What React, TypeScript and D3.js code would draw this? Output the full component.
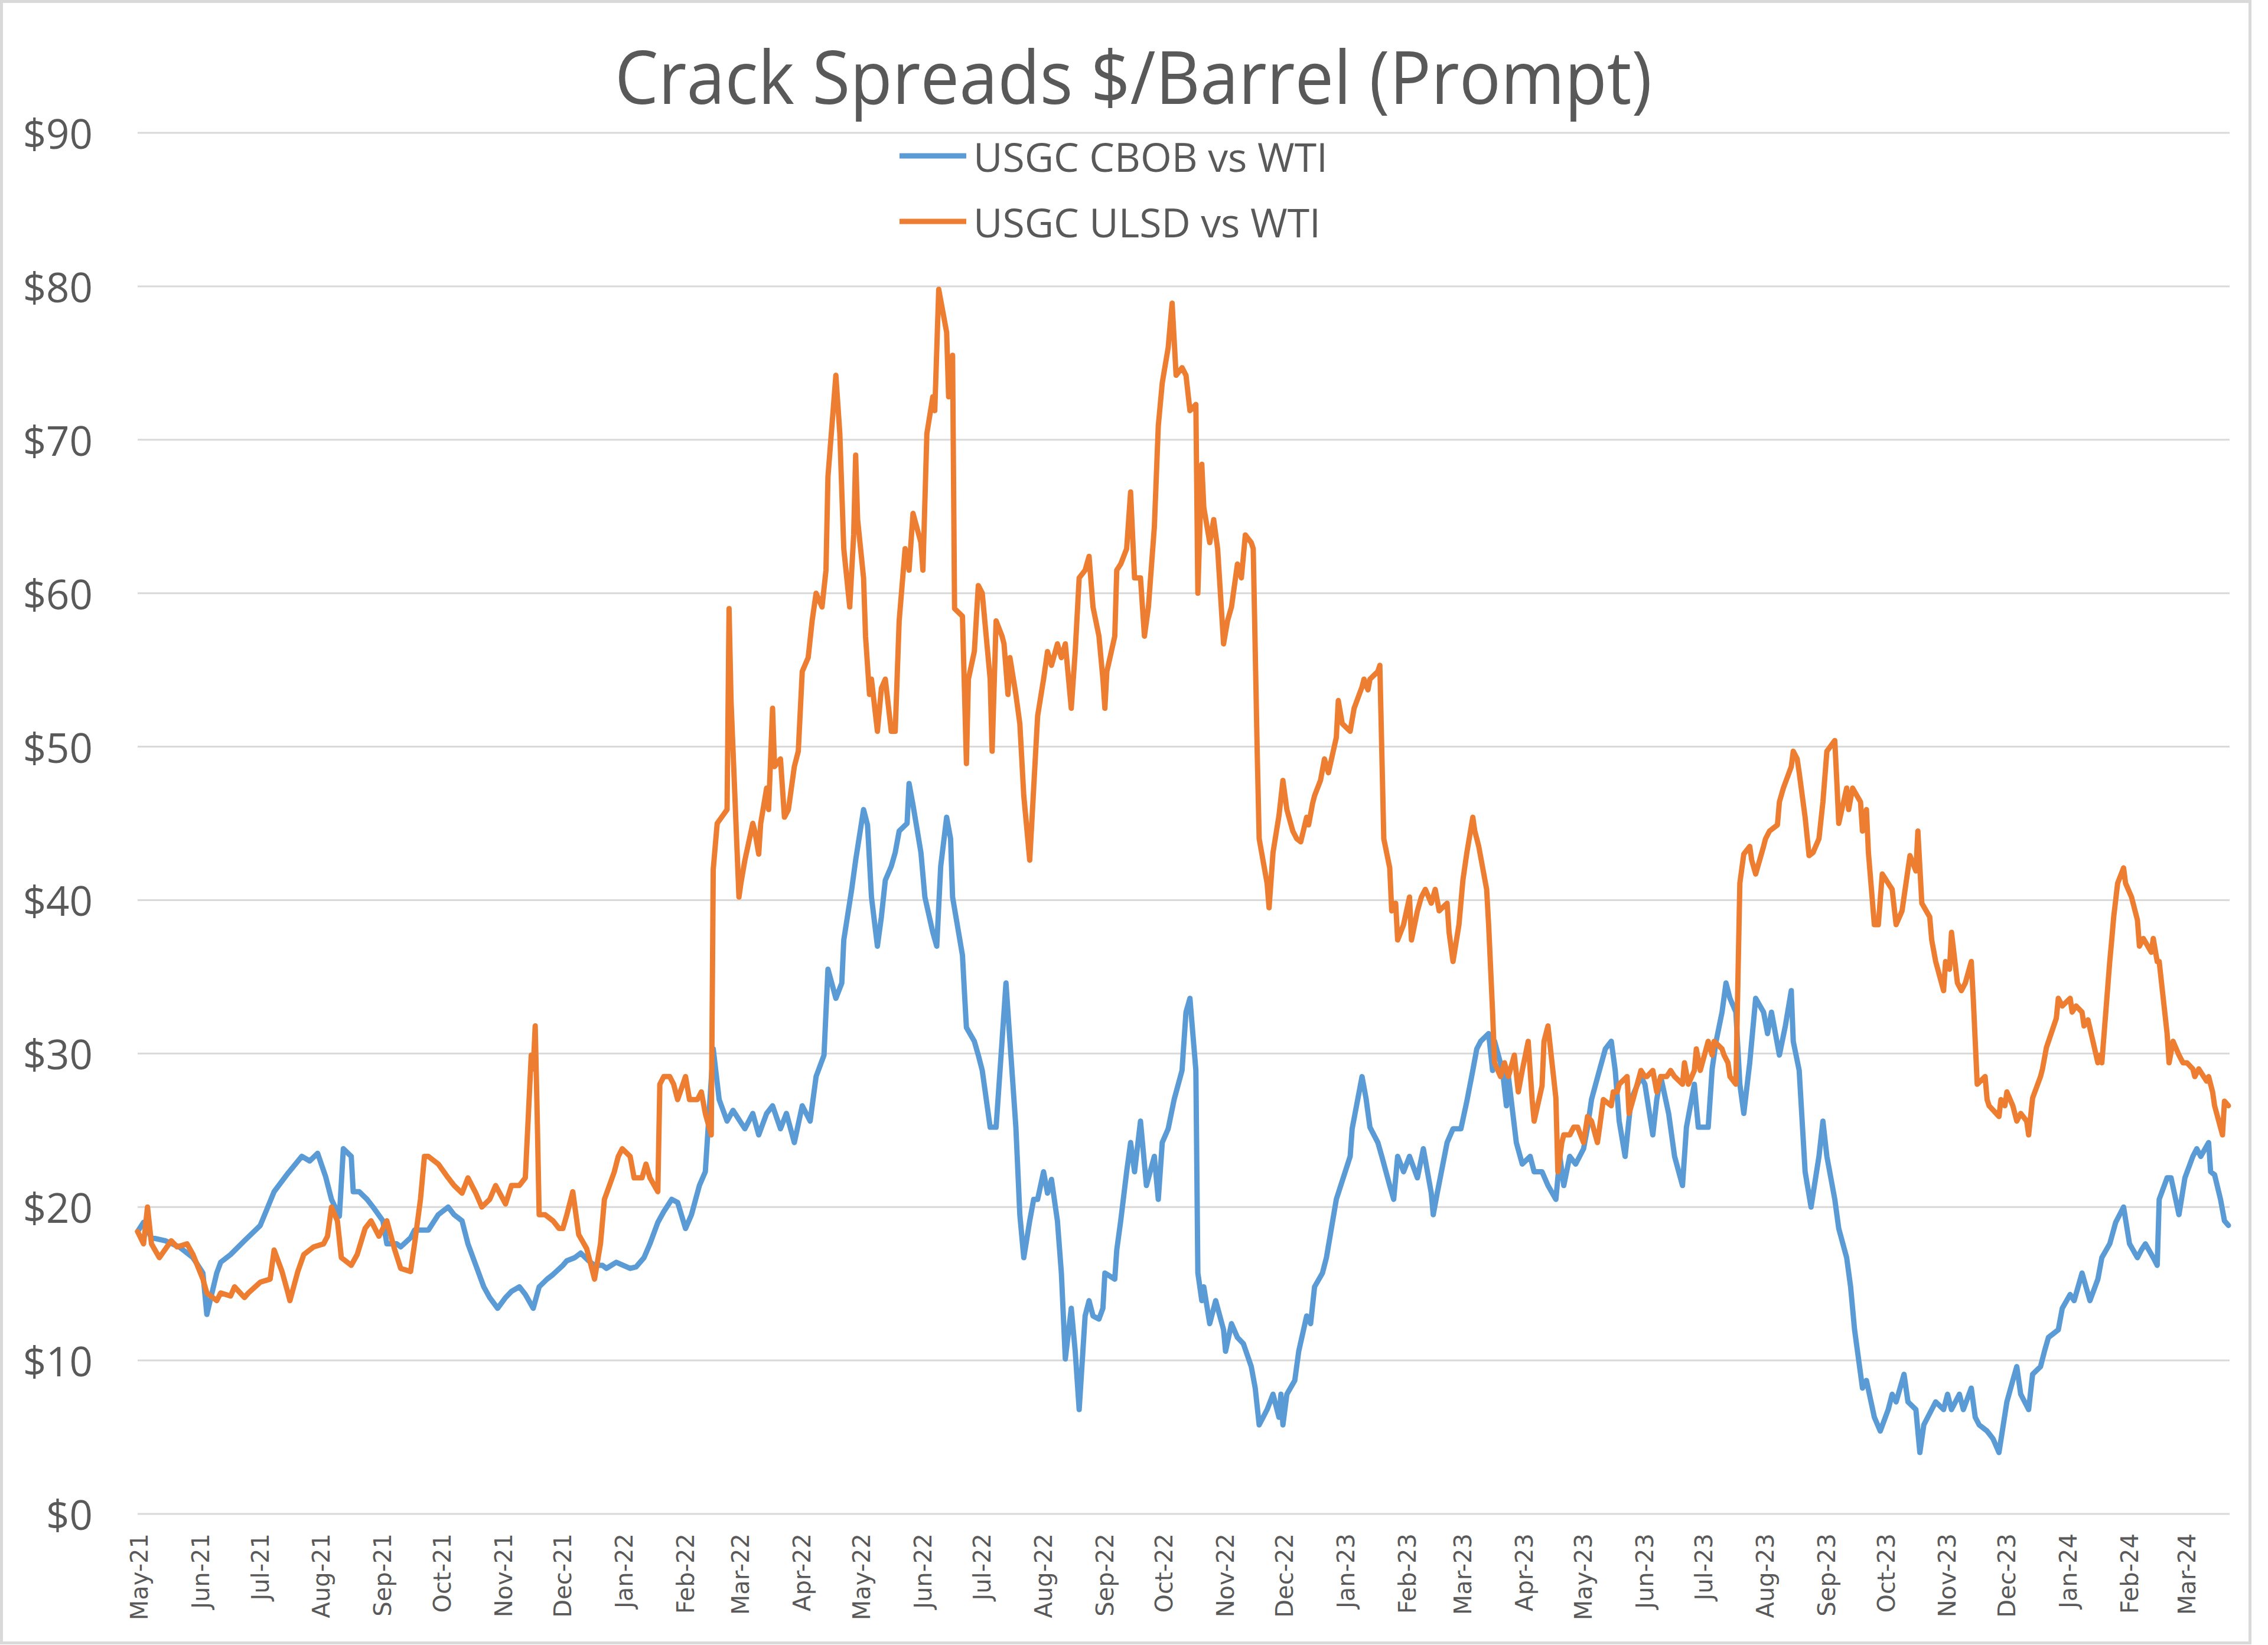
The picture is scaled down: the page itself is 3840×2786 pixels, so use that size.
import React from "react";
import * as d3 from "d3";

const W = 3840;
const H = 2786;

const chartTitle = "Crack Spreads $/Barrel (Prompt)";
const seriesNames = ["USGC CBOB vs WTI", "USGC ULSD vs WTI"];
const seriesColors = ["#5B9BD5", "#ED7D31"];
const yTicks = [0, 10, 20, 30, 40, 50, 60, 70, 80, 90];
const monthLabels = [
  "May-21", "Jun-21", "Jul-21", "Aug-21", "Sep-21", "Oct-21", "Nov-21", "Dec-21",
  "Jan-22", "Feb-22", "Mar-22", "Apr-22", "May-22", "Jun-22", "Jul-22", "Aug-22",
  "Sep-22", "Oct-22", "Nov-22", "Dec-22", "Jan-23", "Feb-23", "Mar-23", "Apr-23",
  "May-23", "Jun-23", "Jul-23", "Aug-23", "Sep-23", "Oct-23", "Nov-23", "Dec-23",
  "Jan-24", "Feb-24", "Mar-24",
];

const cbob: [string, number][] = [
  ["2021-04-30",18.4],["2021-05-03",19.0],["2021-05-07",18.0],["2021-05-14",17.8],["2021-05-21",17.4],["2021-05-28",16.7],["2021-06-02",15.7],["2021-06-04",13.0],["2021-06-09",15.7],["2021-06-11",16.4],["2021-06-16",16.9],["2021-06-23",17.8],["2021-07-01",18.8],["2021-07-08",21.0],["2021-07-15",22.2],["2021-07-22",23.3],["2021-07-26",23.0],["2021-07-30",23.5],["2021-08-03",22.0],["2021-08-06",20.5],["2021-08-10",19.4],["2021-08-12",23.8],["2021-08-16",23.3],["2021-08-17",21.0],["2021-08-20",21.0],["2021-08-24",20.5],["2021-08-27",20.0],["2021-09-01",19.1],["2021-09-03",17.6],["2021-09-08",17.6],["2021-09-10",17.4],["2021-09-15",18.0],["2021-09-17",18.5],["2021-09-24",18.5],["2021-09-29",19.5],["2021-10-04",20.0],["2021-10-07",19.5],["2021-10-11",19.1],["2021-10-14",17.6],["2021-10-18",16.2],["2021-10-22",14.8],["2021-10-25",14.1],["2021-10-29",13.4],["2021-11-02",14.1],["2021-11-05",14.5],["2021-11-09",14.8],["2021-11-12",14.3],["2021-11-16",13.4],["2021-11-19",14.8],["2021-11-23",15.3],["2021-11-26",15.6],["2021-12-01",16.2],["2021-12-03",16.5],["2021-12-07",16.7],["2021-12-10",17.0],["2021-12-14",16.5],["2021-12-17",16.2],["2021-12-21",16.2],["2021-12-23",16.0],["2021-12-28",16.4],["2022-01-04",16.0],["2022-01-07",16.1],["2022-01-11",16.7],["2022-01-14",17.6],["2022-01-18",19.0],["2022-01-21",19.7],["2022-01-25",20.5],["2022-01-28",20.3],["2022-02-01",18.6],["2022-02-04",19.5],["2022-02-08",21.4],["2022-02-11",22.3],["2022-02-15",30.3],["2022-02-18",27.0],["2022-02-22",25.6],["2022-02-25",26.3],["2022-03-03",25.1],["2022-03-07",26.1],["2022-03-10",24.7],["2022-03-14",26.1],["2022-03-17",26.6],["2022-03-21",25.1],["2022-03-24",26.1],["2022-03-28",24.2],["2022-04-01",26.6],["2022-04-05",25.6],["2022-04-08",28.5],["2022-04-12",29.9],["2022-04-14",35.5],["2022-04-18",33.6],["2022-04-21",34.6],["2022-04-22",37.4],["2022-04-26",40.7],["2022-04-28",42.6],["2022-05-02",45.9],["2022-05-04",44.9],["2022-05-06",40.2],["2022-05-09",37.0],["2022-05-11",38.9],["2022-05-13",41.3],["2022-05-16",42.2],["2022-05-18",43.1],["2022-05-20",44.5],["2022-05-24",45.0],["2022-05-25",47.6],["2022-05-27",46.2],["2022-05-31",43.1],["2022-06-02",40.2],["2022-06-06",37.9],["2022-06-08",37.0],["2022-06-10",42.2],["2022-06-13",45.4],["2022-06-15",44.0],["2022-06-16",40.2],["2022-06-21",36.4],["2022-06-22",34.0],["2022-06-23",31.7],["2022-06-27",30.8],["2022-06-29",29.9],["2022-07-01",28.9],["2022-07-05",25.2],["2022-07-08",25.2],["2022-07-11",30.8],["2022-07-13",34.6],["2022-07-15",30.8],["2022-07-18",25.2],["2022-07-20",19.5],["2022-07-22",16.7],["2022-07-25",19.1],["2022-07-27",20.5],["2022-07-29",20.5],["2022-08-01",22.3],["2022-08-03",20.9],["2022-08-05",21.8],["2022-08-08",19.1],["2022-08-10",15.7],["2022-08-12",10.1],["2022-08-15",13.4],["2022-08-17",10.6],["2022-08-19",6.8],["2022-08-22",12.9],["2022-08-24",13.9],["2022-08-26",12.9],["2022-08-29",12.7],["2022-08-31",13.4],["2022-09-01",15.7],["2022-09-06",15.3],["2022-09-07",17.2],["2022-09-09",19.1],["2022-09-12",22.3],["2022-09-14",24.2],["2022-09-16",22.3],["2022-09-19",25.6],["2022-09-22",21.4],["2022-09-26",23.3],["2022-09-28",20.5],["2022-09-30",24.2],["2022-10-03",25.1],["2022-10-06",27.0],["2022-10-10",28.9],["2022-10-12",32.7],["2022-10-14",33.6],["2022-10-17",28.9],["2022-10-18",15.7],["2022-10-20",13.9],["2022-10-21",14.8],["2022-10-24",12.4],["2022-10-27",13.9],["2022-10-31",12.0],["2022-11-01",10.6],["2022-11-04",12.4],["2022-11-07",11.5],["2022-11-10",11.1],["2022-11-14",9.6],["2022-11-16",8.2],["2022-11-18",5.8],["2022-11-22",6.8],["2022-11-25",7.8],["2022-11-28",6.3],["2022-11-29",7.8],["2022-11-30",5.8],["2022-12-02",7.8],["2022-12-06",8.7],["2022-12-08",10.6],["2022-12-12",12.9],["2022-12-14",12.4],["2022-12-16",14.8],["2022-12-20",15.7],["2022-12-22",16.7],["2022-12-27",20.5],["2023-01-03",23.3],["2023-01-04",25.1],["2023-01-09",28.5],["2023-01-11",27.1],["2023-01-13",25.2],["2023-01-17",24.2],["2023-01-19",23.3],["2023-01-23",21.4],["2023-01-25",20.5],["2023-01-27",23.3],["2023-01-30",22.3],["2023-02-02",23.3],["2023-02-06",21.9],["2023-02-09",23.8],["2023-02-13",20.9],["2023-02-14",19.5],["2023-02-16",20.9],["2023-02-21",24.2],["2023-02-24",25.1],["2023-02-28",25.1],["2023-03-03",26.9],["2023-03-06",28.9],["2023-03-08",30.3],["2023-03-10",30.8],["2023-03-14",31.3],["2023-03-16",28.9],["2023-03-17",30.8],["2023-03-21",28.9],["2023-03-23",26.6],["2023-03-24",28.5],["2023-03-28",24.2],["2023-03-31",22.8],["2023-04-04",23.3],["2023-04-06",22.3],["2023-04-10",22.3],["2023-04-13",21.4],["2023-04-17",20.5],["2023-04-19",23.3],["2023-04-21",21.4],["2023-04-24",23.3],["2023-04-27",22.8],["2023-05-01",23.8],["2023-05-03",25.2],["2023-05-05",27.0],["2023-05-09",28.9],["2023-05-12",30.3],["2023-05-15",30.8],["2023-05-17",28.9],["2023-05-19",25.6],["2023-05-22",23.3],["2023-05-25",27.0],["2023-05-30",28.5],["2023-06-01",28.0],["2023-06-05",24.7],["2023-06-07",27.0],["2023-06-09",28.5],["2023-06-13",26.1],["2023-06-16",23.3],["2023-06-20",21.4],["2023-06-22",25.2],["2023-06-26",28.0],["2023-06-28",25.2],["2023-07-03",25.2],["2023-07-05",29.0],["2023-07-07",30.8],["2023-07-10",32.7],["2023-07-12",34.6],["2023-07-14",33.6],["2023-07-17",32.7],["2023-07-19",28.0],["2023-07-21",26.1],["2023-07-24",29.4],["2023-07-27",33.6],["2023-07-31",32.7],["2023-08-02",31.3],["2023-08-04",32.7],["2023-08-08",29.9],["2023-08-11",31.8],["2023-08-14",34.1],["2023-08-15",30.8],["2023-08-18",28.9],["2023-08-21",22.3],["2023-08-24",20.0],["2023-08-28",23.3],["2023-08-30",25.6],["2023-09-01",23.3],["2023-09-05",20.5],["2023-09-07",18.6],["2023-09-11",16.7],["2023-09-13",14.8],["2023-09-15",12.0],["2023-09-19",8.2],["2023-09-21",8.7],["2023-09-25",6.3],["2023-09-28",5.4],["2023-10-02",6.8],["2023-10-04",7.8],["2023-10-06",7.3],["2023-10-10",9.1],["2023-10-12",7.3],["2023-10-16",6.8],["2023-10-18",4.0],["2023-10-20",5.8],["2023-10-24",6.8],["2023-10-26",7.3],["2023-10-30",6.8],["2023-11-01",7.8],["2023-11-03",6.8],["2023-11-07",7.8],["2023-11-09",6.8],["2023-11-13",8.2],["2023-11-15",6.3],["2023-11-17",5.8],["2023-11-21",5.4],["2023-11-24",4.9],["2023-11-27",4.0],["2023-12-01",7.3],["2023-12-04",8.7],["2023-12-06",9.6],["2023-12-08",7.8],["2023-12-12",6.8],["2023-12-14",9.1],["2023-12-18",9.6],["2023-12-20",10.6],["2023-12-22",11.5],["2023-12-27",12.0],["2023-12-29",13.4],["2024-01-02",14.3],["2024-01-04",13.9],["2024-01-08",15.7],["2024-01-10",14.8],["2024-01-12",13.9],["2024-01-16",15.3],["2024-01-18",16.7],["2024-01-22",17.6],["2024-01-25",19.0],["2024-01-29",20.0],["2024-02-01",17.6],["2024-02-05",16.7],["2024-02-07",17.2],["2024-02-09",17.6],["2024-02-13",16.7],["2024-02-15",16.2],["2024-02-16",20.5],["2024-02-20",21.9],["2024-02-22",21.9],["2024-02-26",19.5],["2024-02-29",21.9],["2024-03-04",23.3],["2024-03-06",23.8],["2024-03-08",23.3],["2024-03-12",24.2],["2024-03-13",22.3],["2024-03-15",22.1],["2024-03-18",20.5],["2024-03-20",19.1],["2024-03-22",18.8],
];

const ulsd: [string, number][] = [
  ["2021-04-30",18.4],["2021-05-03",17.6],["2021-05-05",20.0],["2021-05-07",17.6],["2021-05-11",16.7],["2021-05-17",17.8],["2021-05-20",17.4],["2021-05-25",17.6],["2021-05-28",16.9],["2021-06-02",15.3],["2021-06-04",14.4],["2021-06-09",13.9],["2021-06-11",14.4],["2021-06-16",14.2],["2021-06-18",14.8],["2021-06-23",14.1],["2021-06-25",14.4],["2021-07-01",15.1],["2021-07-06",15.3],["2021-07-08",17.2],["2021-07-12",15.8],["2021-07-15",14.4],["2021-07-16",13.9],["2021-07-20",15.8],["2021-07-23",16.9],["2021-07-28",17.4],["2021-08-02",17.6],["2021-08-04",18.1],["2021-08-06",20.0],["2021-08-09",19.1],["2021-08-11",16.7],["2021-08-16",16.2],["2021-08-19",16.9],["2021-08-23",18.6],["2021-08-26",19.1],["2021-08-30",18.1],["2021-09-03",19.1],["2021-09-07",17.2],["2021-09-10",16.0],["2021-09-15",15.8],["2021-09-17",17.6],["2021-09-20",20.5],["2021-09-22",23.3],["2021-09-24",23.3],["2021-09-29",22.8],["2021-10-04",21.9],["2021-10-07",21.4],["2021-10-11",20.9],["2021-10-14",21.9],["2021-10-18",20.9],["2021-10-21",20.0],["2021-10-25",20.5],["2021-10-28",21.4],["2021-11-02",20.2],["2021-11-05",21.4],["2021-11-09",21.4],["2021-11-12",21.9],["2021-11-15",29.9],["2021-11-16",29.0],["2021-11-17",31.8],["2021-11-18",26.0],["2021-11-19",19.5],["2021-11-22",19.5],["2021-11-26",19.1],["2021-11-29",18.6],["2021-12-01",18.6],["2021-12-03",19.5],["2021-12-06",21.0],["2021-12-09",18.2],["2021-12-13",17.3],["2021-12-15",16.3],["2021-12-17",15.3],["2021-12-20",17.6],["2021-12-22",20.5],["2021-12-27",22.3],["2021-12-29",23.3],["2021-12-31",23.8],["2022-01-04",23.3],["2022-01-06",21.9],["2022-01-10",21.9],["2022-01-12",22.8],["2022-01-14",21.9],["2022-01-18",21.0],["2022-01-19",28.0],["2022-01-21",28.5],["2022-01-24",28.5],["2022-01-26",28.0],["2022-01-28",27.0],["2022-02-01",28.5],["2022-02-03",27.0],["2022-02-07",27.0],["2022-02-09",27.5],["2022-02-11",26.1],["2022-02-14",24.7],["2022-02-15",42.0],["2022-02-17",45.0],["2022-02-22",45.9],["2022-02-23",59.0],["2022-02-24",53.0],["2022-02-28",40.2],["2022-03-01",41.1],["2022-03-03",42.6],["2022-03-07",45.0],["2022-03-08",44.5],["2022-03-10",43.0],["2022-03-11",45.0],["2022-03-14",47.3],["2022-03-15",45.9],["2022-03-17",52.5],["2022-03-18",48.7],["2022-03-21",49.2],["2022-03-23",45.4],["2022-03-25",45.9],["2022-03-28",48.7],["2022-03-30",49.7],["2022-04-01",54.9],["2022-04-04",55.8],["2022-04-06",58.2],["2022-04-08",60.0],["2022-04-11",59.1],["2022-04-13",61.5],["2022-04-14",67.6],["2022-04-18",74.2],["2022-04-20",70.4],["2022-04-22",62.9],["2022-04-25",59.1],["2022-04-27",63.8],["2022-04-28",69.0],["2022-04-29",64.8],["2022-05-02",61.0],["2022-05-03",57.2],["2022-05-05",53.4],["2022-05-06",54.4],["2022-05-09",51.0],["2022-05-11",53.8],["2022-05-13",54.4],["2022-05-16",51.0],["2022-05-18",51.0],["2022-05-20",58.2],["2022-05-23",62.9],["2022-05-25",61.5],["2022-05-27",65.2],["2022-05-31",63.3],["2022-06-01",61.5],["2022-06-03",70.4],["2022-06-06",72.8],["2022-06-07",71.9],["2022-06-09",79.8],["2022-06-13",77.0],["2022-06-14",72.8],["2022-06-16",75.5],["2022-06-17",59.0],["2022-06-21",58.5],["2022-06-23",48.9],["2022-06-24",54.4],["2022-06-27",56.2],["2022-06-29",60.5],["2022-07-01",60.0],["2022-07-05",54.4],["2022-07-06",49.7],["2022-07-08",58.2],["2022-07-11",57.2],["2022-07-12",56.7],["2022-07-14",53.4],["2022-07-15",55.8],["2022-07-18",53.4],["2022-07-20",51.5],["2022-07-22",46.8],["2022-07-25",42.6],["2022-07-27",47.3],["2022-07-29",52.0],["2022-08-01",54.4],["2022-08-03",56.2],["2022-08-05",55.3],["2022-08-08",56.7],["2022-08-10",55.8],["2022-08-12",56.7],["2022-08-15",52.5],["2022-08-17",56.2],["2022-08-19",61.0],["2022-08-22",61.5],["2022-08-24",62.4],["2022-08-26",59.1],["2022-08-29",57.2],["2022-08-31",54.4],["2022-09-01",52.5],["2022-09-02",54.9],["2022-09-06",57.2],["2022-09-07",61.5],["2022-09-09",61.9],["2022-09-12",62.9],["2022-09-14",66.6],["2022-09-16",61.0],["2022-09-19",61.0],["2022-09-21",57.2],["2022-09-23",59.1],["2022-09-26",64.3],["2022-09-28",70.9],["2022-09-30",73.7],["2022-10-03",76.0],["2022-10-04",77.5],["2022-10-05",78.9],["2022-10-07",74.2],["2022-10-10",74.7],["2022-10-12",74.2],["2022-10-14",71.9],["2022-10-17",72.3],["2022-10-18",60.0],["2022-10-20",68.4],["2022-10-21",65.6],["2022-10-24",63.3],["2022-10-26",64.8],["2022-10-28",62.9],["2022-10-31",56.7],["2022-11-02",58.2],["2022-11-04",59.1],["2022-11-07",61.9],["2022-11-09",61.0],["2022-11-11",63.8],["2022-11-14",63.3],["2022-11-15",62.9],["2022-11-17",49.7],["2022-11-18",44.0],["2022-11-22",41.1],["2022-11-23",39.5],["2022-11-25",43.1],["2022-11-28",45.5],["2022-11-30",47.8],["2022-12-02",45.9],["2022-12-05",44.5],["2022-12-07",44.0],["2022-12-09",43.8],["2022-12-12",45.4],["2022-12-13",44.9],["2022-12-15",46.3],["2022-12-16",46.8],["2022-12-19",47.8],["2022-12-21",49.2],["2022-12-23",48.3],["2022-12-27",50.6],["2022-12-28",53.0],["2022-12-30",51.5],["2023-01-03",51.0],["2023-01-05",52.5],["2023-01-09",53.9],["2023-01-10",54.4],["2023-01-12",53.7],["2023-01-13",54.4],["2023-01-17",54.9],["2023-01-18",55.3],["2023-01-20",44.0],["2023-01-23",42.1],["2023-01-24",39.3],["2023-01-26",39.8],["2023-01-27",37.4],["2023-01-30",38.4],["2023-02-02",40.2],["2023-02-03",37.4],["2023-02-06",39.3],["2023-02-08",40.2],["2023-02-10",40.7],["2023-02-13",39.8],["2023-02-15",40.7],["2023-02-17",39.3],["2023-02-21",39.8],["2023-02-22",37.9],["2023-02-24",36.0],["2023-02-27",38.4],["2023-03-01",41.3],["2023-03-03",43.1],["2023-03-06",45.4],["2023-03-07",44.5],["2023-03-09",43.5],["2023-03-13",40.7],["2023-03-14",38.4],["2023-03-16",32.7],["2023-03-17",29.4],["2023-03-20",28.5],["2023-03-22",29.4],["2023-03-24",28.5],["2023-03-27",29.9],["2023-03-29",27.5],["2023-03-31",28.9],["2023-04-03",30.8],["2023-04-05",27.0],["2023-04-06",25.6],["2023-04-10",27.9],["2023-04-11",30.8],["2023-04-13",31.8],["2023-04-17",27.1],["2023-04-18",22.3],["2023-04-20",24.2],["2023-04-21",24.7],["2023-04-24",24.7],["2023-04-26",25.2],["2023-04-28",25.2],["2023-05-01",24.2],["2023-05-03",25.9],["2023-05-05",25.6],["2023-05-08",24.2],["2023-05-09",25.1],["2023-05-11",27.0],["2023-05-15",26.6],["2023-05-16",27.5],["2023-05-18",27.5],["2023-05-19",28.0],["2023-05-23",28.5],["2023-05-24",26.1],["2023-05-26",27.0],["2023-05-30",28.9],["2023-06-01",28.5],["2023-06-02",28.5],["2023-06-05",28.9],["2023-06-07",27.5],["2023-06-09",28.5],["2023-06-12",28.5],["2023-06-14",28.9],["2023-06-16",28.5],["2023-06-20",28.0],["2023-06-21",29.4],["2023-06-23",28.0],["2023-06-26",28.9],["2023-06-27",30.3],["2023-06-29",28.9],["2023-07-03",30.8],["2023-07-05",29.9],["2023-07-06",30.8],["2023-07-10",30.3],["2023-07-11",29.9],["2023-07-13",29.4],["2023-07-14",28.5],["2023-07-17",28.0],["2023-07-19",41.1],["2023-07-21",43.0],["2023-07-24",43.5],["2023-07-25",42.6],["2023-07-27",41.7],["2023-07-31",43.5],["2023-08-01",44.0],["2023-08-03",44.5],["2023-08-07",44.9],["2023-08-08",46.4],["2023-08-10",47.3],["2023-08-14",48.7],["2023-08-15",49.7],["2023-08-17",49.2],["2023-08-18",48.3],["2023-08-21",45.4],["2023-08-23",42.9],["2023-08-25",43.1],["2023-08-28",44.0],["2023-08-30",46.4],["2023-09-01",49.7],["2023-09-05",50.4],["2023-09-06",47.8],["2023-09-07",45.0],["2023-09-11",47.3],["2023-09-12",45.9],["2023-09-14",47.3],["2023-09-18",46.4],["2023-09-19",44.5],["2023-09-21",45.9],["2023-09-22",43.1],["2023-09-25",38.4],["2023-09-27",38.4],["2023-09-29",41.7],["2023-10-02",41.1],["2023-10-04",40.7],["2023-10-06",38.4],["2023-10-09",39.3],["2023-10-11",41.1],["2023-10-13",42.9],["2023-10-16",41.9],["2023-10-17",44.5],["2023-10-19",39.8],["2023-10-23",38.9],["2023-10-24",37.4],["2023-10-26",36.0],["2023-10-30",34.1],["2023-10-31",36.0],["2023-11-02",35.5],["2023-11-03",37.9],["2023-11-06",34.6],["2023-11-08",34.1],["2023-11-10",34.6],["2023-11-13",36.0],["2023-11-14",33.6],["2023-11-16",28.0],["2023-11-20",28.5],["2023-11-21",27.0],["2023-11-22",26.6],["2023-11-27",25.9],["2023-11-28",27.0],["2023-11-30",26.6],["2023-12-01",27.5],["2023-12-04",26.6],["2023-12-06",25.6],["2023-12-08",26.1],["2023-12-11",25.6],["2023-12-12",24.7],["2023-12-14",27.1],["2023-12-18",28.5],["2023-12-19",29.0],["2023-12-21",30.4],["2023-12-26",32.3],["2023-12-27",33.6],["2023-12-29",33.1],["2024-01-02",33.6],["2024-01-03",32.7],["2024-01-05",33.1],["2024-01-08",32.7],["2024-01-09",31.8],["2024-01-11",32.2],["2024-01-16",29.4],["2024-01-17",29.9],["2024-01-18",29.4],["2024-01-22",36.0],["2024-01-23",37.4],["2024-01-24",38.9],["2024-01-26",41.1],["2024-01-29",42.1],["2024-01-30",41.1],["2024-02-02",40.2],["2024-02-05",38.7],["2024-02-06",37.0],["2024-02-08",37.5],["2024-02-12",36.6],["2024-02-13",37.5],["2024-02-15",36.0],["2024-02-16",36.0],["2024-02-20",31.3],["2024-02-21",29.4],["2024-02-23",30.8],["2024-02-26",29.9],["2024-02-28",29.4],["2024-03-01",29.4],["2024-03-04",29.0],["2024-03-05",28.5],["2024-03-07",29.0],["2024-03-11",28.2],["2024-03-12",28.5],["2024-03-14",27.5],["2024-03-15",26.6],["2024-03-19",24.7],["2024-03-20",26.9],["2024-03-22",26.6],
];

const parseDay = d3.timeParse("%Y-%m-%d");
const parseMonth = d3.timeParse("%b-%y");

export default function App() {
  const plotLeft = 233;
  const plotRight = 3773;
  const plotTop = 225;
  const plotBottom = 2564;

  const x = d3
    .scaleTime()
    .domain([parseDay(cbob[0][0]) as Date, parseDay(cbob[cbob.length - 1][0]) as Date])
    .range([plotLeft, plotRight]);
  const y = d3.scaleLinear().domain([0, 90]).range([plotBottom, plotTop]);

  const line = d3
    .line<[string, number]>()
    .x((d) => x(parseDay(d[0]) as Date))
    .y((d) => y(d[1]));

  const series = [cbob, ulsd];
  const textColor = "#595959";
  const font = "'Open Sans', 'Noto Sans', sans-serif";
  const legendY = [264, 375];
  const legendLen = [600, 588];

  return (
    <svg
      width={W}
      height={H}
      viewBox={`0 0 ${W} ${H}`}
      style={{ position: "absolute", left: 0, top: 0, display: "block", background: "#fff" }}
    >
      <rect x={2.5} y={2.5} width={3807} height={2780} fill="#fff" stroke="#D9D9D9" strokeWidth={5} />

      <text
        x={1919}
        y={176}
        textAnchor="middle"
        fontFamily={font}
        fontSize={124}
        fill={textColor}
        textLength={1756}
        lengthAdjust="spacingAndGlyphs"
      >
        {chartTitle}
      </text>

      {yTicks.map((t) => (
        <g key={t}>
          <line x1={plotLeft} x2={plotRight + 2} y1={y(t)} y2={y(t)} stroke="#D9D9D9" strokeWidth={3} />
          <text
            x={157}
            y={y(t)}
            textAnchor="end"
            dominantBaseline="central"
            fontFamily={font}
            fontSize={69}
            fill={textColor}
          >
            {`$${t}`}
          </text>
        </g>
      ))}

      {monthLabels.map((m) => {
        const xm = x(parseMonth(m) as Date);
        return (
          <text
            key={m}
            transform={`translate(${xm},2597) rotate(-90)`}
            textAnchor="end"
            dominantBaseline="central"
            fontFamily="'DejaVu Sans', Verdana, sans-serif"
            fontSize={40}
            fill={textColor}
          >
            {m}
          </text>
        );
      })}

      {series.map((s, i) => (
        <path
          key={seriesNames[i]}
          d={line(s) || ""}
          fill="none"
          stroke={seriesColors[i]}
          strokeWidth={9}
          strokeLinejoin="round"
          strokeLinecap="round"
        />
      ))}

      {seriesNames.map((n, i) => (
        <g key={n}>
          <line x1={1523} x2={1636} y1={legendY[i]} y2={legendY[i]} stroke={seriesColors[i]} strokeWidth={9} />
          <text
            x={1648}
            y={legendY[i]}
            dominantBaseline="central"
            fontFamily={font}
            fontSize={68}
            fill={textColor}
            textLength={legendLen[i]}
            lengthAdjust="spacingAndGlyphs"
          >
            {n}
          </text>
        </g>
      ))}
    </svg>
  );
}
